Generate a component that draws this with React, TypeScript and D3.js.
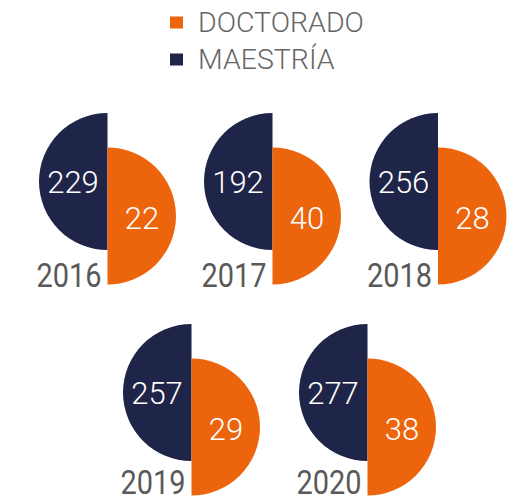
import React from "react";
import * as d3 from "d3";

const years = ["2016", "2017", "2018", "2019", "2020"];
const maestria = [229, 192, 256, 257, 277];
const doctorado = [22, 40, 28, 29, 38];
const legendLabels = ["DOCTORADO", "MAESTRÍA"];

const NAVY = "#1f2548";
const ORANGE = "#ec640c";
const GRAY = "#595959";

// layout positions (split line x, dark centre y)
const centersX = [107.5, 272.5, 438, 191.5, 367.5];
const centersY = [181.5, 181.5, 181.5, 392.5, 392.5];

export default function App() {
  const R = 68.5;
  const off = 34.5;
  const leftArc = d3.arc<any>()({ innerRadius: 0, outerRadius: R, startAngle: Math.PI, endAngle: 2 * Math.PI }) as string;
  const rightArc = d3.arc<any>()({ innerRadius: 0, outerRadius: R, startAngle: 0, endAngle: Math.PI }) as string;
  const font = "Roboto, 'Noto Sans', sans-serif";
  const legendColor = d3.scaleOrdinal<string, string>().domain(legendLabels).range([ORANGE, NAVY]);

  return (
    <svg width={509} height={499} style={{ position: "absolute", left: 0, top: 0 }}>
      {legendLabels.map((l, i) => (
        <g key={l} transform={`translate(170, ${16.5 + i * 37})`}>
          <rect x={0} y={0} width={13} height={12} fill={legendColor(l)} />
          <text x={28} y={15.5} fontFamily={font} fontWeight={300} fontSize={28.5} fill="#666666">
            {l}
          </text>
        </g>
      ))}
      {years.map((y, i) => {
        const cx = centersX[i];
        const cy = centersY[i];
        const yBase = i < 3 ? cy + 105 : cy + 101.5;
        return (
          <g key={y}>
            <path d={leftArc} transform={`translate(${cx},${cy})`} fill={NAVY} />
            <path d={rightArc} transform={`translate(${cx},${cy + off})`} fill={ORANGE} />
            <text x={cx - off} y={cy} dy="0.36em" textAnchor="middle" fontFamily={font} fontWeight={300} fontSize={31} fill="#ffffff">
              {maestria[i]}
            </text>
            <text x={cx + off} y={cy + off + 2} dy="0.36em" textAnchor="middle" fontFamily={font} fontWeight={300} fontSize={31} fill="#ffffff">
              {doctorado[i]}
            </text>
            <text x={cx - 71} y={yBase} textLength={65} lengthAdjust="spacingAndGlyphs" fontFamily={font} fontWeight={400} fontSize={33.5} fill={GRAY}>
              {y}
            </text>
          </g>
        );
      })}
    </svg>
  );
}
